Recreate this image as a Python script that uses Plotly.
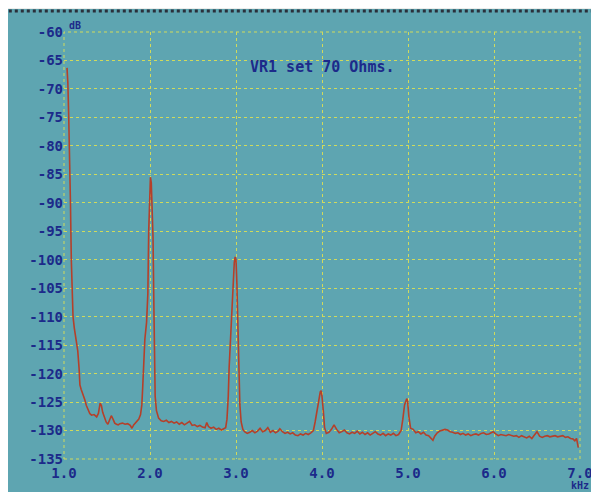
import plotly.graph_objects as go

freq_khz = [
    1.035, 1.045, 1.055, 1.065, 1.075, 1.085, 1.095, 1.105, 1.12, 1.14, 1.16, 1.175, 1.185,
    1.20, 1.22, 1.24, 1.26, 1.28, 1.30, 1.32, 1.35, 1.38, 1.40, 1.42, 1.435, 1.45, 1.47, 1.49,
    1.51, 1.53, 1.55, 1.57, 1.59, 1.61, 1.63, 1.65, 1.68, 1.71, 1.74, 1.77, 1.79, 1.81, 1.84,
    1.87, 1.89, 1.905, 1.915, 1.925, 1.94, 1.96, 1.975, 1.985, 1.995, 2.005, 2.015, 2.025,
    2.035, 2.045, 2.052, 2.06, 2.075, 2.10, 2.13, 2.16, 2.19, 2.22, 2.25, 2.28, 2.31, 2.34,
    2.37, 2.40, 2.43, 2.46, 2.49, 2.52, 2.55, 2.58, 2.61, 2.64, 2.66, 2.68, 2.71, 2.74, 2.77,
    2.80, 2.83, 2.86, 2.88, 2.895, 2.91, 2.92, 2.94, 2.96, 2.98, 2.99, 3.00, 3.01, 3.02, 3.03,
    3.045, 3.06, 3.08, 3.10, 3.13, 3.16, 3.19, 3.22, 3.25, 3.28, 3.31, 3.34, 3.37, 3.40, 3.43,
    3.46, 3.49, 3.51, 3.54, 3.57, 3.60, 3.63, 3.66, 3.69, 3.72, 3.75, 3.78, 3.81, 3.84, 3.87,
    3.90, 3.92, 3.94, 3.96, 3.98, 3.99, 4.00, 4.015, 4.03, 4.05, 4.08, 4.11, 4.14, 4.17, 4.20,
    4.23, 4.26, 4.29, 4.32, 4.35, 4.38, 4.41, 4.44, 4.47, 4.50, 4.53, 4.56, 4.59, 4.62, 4.65,
    4.68, 4.71, 4.74, 4.77, 4.80, 4.83, 4.86, 4.89, 4.92, 4.94, 4.96, 4.985, 4.995, 5.01, 5.03,
    5.06, 5.09, 5.12, 5.15, 5.18, 5.21, 5.24, 5.27, 5.29, 5.31, 5.34, 5.37, 5.40, 5.43, 5.46,
    5.49, 5.52, 5.55, 5.58, 5.61, 5.64, 5.67, 5.70, 5.73, 5.76, 5.79, 5.82, 5.85, 5.88, 5.91,
    5.94, 5.97, 5.99, 6.02, 6.05, 6.08, 6.11, 6.14, 6.17, 6.20, 6.23, 6.26, 6.29, 6.32, 6.35,
    6.38, 6.41, 6.44, 6.47, 6.50, 6.53, 6.56, 6.59, 6.62, 6.65, 6.68, 6.71, 6.74, 6.77, 6.80,
    6.83, 6.86, 6.89, 6.92, 6.94, 6.96, 6.98,
]

level_db = [
    -66.3, -69, -75, -81, -90, -100, -107, -110, -112, -114, -116, -119, -122,
    -122.8, -123.5, -124.5, -125.6, -126.5, -127, -127.3, -127.2, -127.6, -127.0, -125.2, -125.6, -126.8, -127.8, -128.5,
    -128.9, -128.2, -127.4, -128.0, -128.7, -128.9, -129.0, -128.8, -128.7, -128.9, -128.8, -129.1, -129.6, -129.0, -128.5,
    -128.0, -127.2, -125.5, -122.5, -118, -114, -111, -106, -95, -88, -85.5, -86.5, -90,
    -96, -108, -118, -124, -126.5, -127.8, -128.3, -128.4, -128.2, -128.6, -128.4, -128.7, -128.5, -128.9,
    -128.6, -129.0, -128.7, -128.4, -129.1, -129.0, -129.3, -129.1, -129.4, -129.5, -128.6, -129.3, -129.6, -129.4, -129.8,
    -129.6, -129.9, -129.7, -129.5, -128, -124, -119, -112, -106, -100.5, -99.5, -100, -104, -110, -119,
    -125.5, -128.5, -129.8, -130.2, -130.5, -130.3, -130.0, -130.4, -130.1, -129.6, -130.2, -130.0, -129.5, -130.3, -130.0,
    -130.4, -130.1, -129.7, -130.2, -130.5, -130.3, -130.6, -130.4, -130.8, -130.9, -130.6, -130.8, -130.5, -130.7, -130.4,
    -130.0, -128.5, -126.5, -124.5, -123.2, -123.0, -124, -126.5, -129.5, -130.5, -130.3, -129.8, -129.0, -129.8, -130.4,
    -130.2, -129.9, -130.4, -130.6, -130.3, -130.5, -130.1, -130.6, -130.3, -130.7, -130.4, -130.8, -130.5, -130.2, -130.6,
    -130.8, -130.5, -130.9, -130.6, -130.8, -130.5, -130.9, -130.7, -130.0, -128, -125.5, -124.4, -124.8, -127.5, -129.6,
    -129.8, -130.4, -130.2, -130.6, -130.3, -130.8, -130.9, -131.3, -131.7, -131.0, -130.4, -130.1, -129.9, -129.8, -129.9,
    -130.2, -130.3, -130.5, -130.4, -130.7, -130.5, -130.8, -130.6, -130.9, -130.7, -130.6, -130.8, -130.5, -130.4, -130.7,
    -130.6, -130.3, -130.2, -130.6, -130.9, -130.7, -130.8, -130.9, -130.7, -130.8, -131.0, -130.9, -131.2, -130.9, -131.1,
    -131.3, -131.0, -131.4, -130.8, -130.2, -131.0, -131.2, -131.0, -130.9, -131.1, -131.0, -130.9, -131.1, -131.0, -130.9,
    -131.2, -131.1, -131.4, -131.5, -131.8, -131.4, -133.0,
]

x_ticks = [1, 2, 3, 4, 5, 6, 7]
x_tick_labels = ["1.0", "2.0", "3.0", "4.0", "5.0", "6.0", "7.0"]
y_ticks = [-135, -130, -125, -120, -115, -110, -105, -100, -95, -90, -85, -80, -75, -70, -65, -60]
y_tick_labels = ["-135", "-130", "-125", "-120", "-115", "-110", "-105", "-100",
                 "-95", "-90", "-85", "-80", "-75", "-70", "-65", "-60"]

TEAL = "#5ea5b1"
NAVY = "#1c2a8a"
GRID = "#d0da5c"
TRACE = "#b5402a"
LIGHT = "#eceeec"
FONT = "DejaVu Sans Mono"

fig = go.Figure()
fig.add_trace(go.Scatter(
    x=freq_khz, y=level_db, mode="lines",
    line=dict(color=TRACE, width=1.6), hoverinfo="skip", showlegend=False,
))

axis_font = dict(family=FONT, size=14, color=NAVY, weight="bold")

fig.update_layout(
    width=591, height=484,
    margin=dict(l=56, r=19, t=24, b=33, autoexpand=False),
    paper_bgcolor=TEAL, plot_bgcolor=TEAL,
    showlegend=False,
    xaxis=dict(
        range=[1, 7], tickvals=x_ticks, ticktext=x_tick_labels, automargin=False,
        showgrid=True, gridcolor=GRID, griddash="dot", gridwidth=1,
        zeroline=False, showline=False, ticks="", ticklabelstandoff=4,
        tickfont=axis_font,
    ),
    yaxis=dict(
        range=[-135, -60], tickvals=y_ticks, ticktext=y_tick_labels, automargin=False,
        showgrid=True, gridcolor=GRID, griddash="dot", gridwidth=1,
        zeroline=False, showline=False, ticks="",
        tickfont=axis_font,
    ),
    shapes=[
        dict(type="rect", xref="paper", yref="paper", x0=-0.2, x1=1.1, y0=1.054, y1=1.2,
             fillcolor=LIGHT, line=dict(width=0), layer="below"),
        dict(type="line", xref="paper", yref="paper", x0=-0.2, x1=1.1, y0=1.049, y1=1.049,
             line=dict(color="#2a2f3a", width=3, dash="dot"), layer="below"),
        dict(type="rect", xref="paper", yref="paper", x0=0, x1=1, y0=0, y1=1,
             line=dict(color=GRID, width=1, dash="dot"), layer="below"),
    ],
    annotations=[
        dict(text="dB", xref="paper", yref="paper", x=0, y=1, xanchor="left", yanchor="middle",
             xshift=3, yshift=7, showarrow=False,
             font=dict(family=FONT, size=10, color=NAVY, weight="bold")),
        dict(text="kHz", xref="paper", yref="paper", x=1, y=0, xanchor="center", yanchor="middle",
             yshift=-26, showarrow=False,
             font=dict(family=FONT, size=10, color=NAVY, weight="bold")),
        dict(text="VR1 set 70 Ohms.", xref="x", yref="y", x=4.0, y=-66.1,
             xanchor="center", yanchor="middle", showarrow=False,
             font=dict(family=FONT, size=15, color=NAVY, weight="bold")),
    ],
)

fig.write_html("out.html")
